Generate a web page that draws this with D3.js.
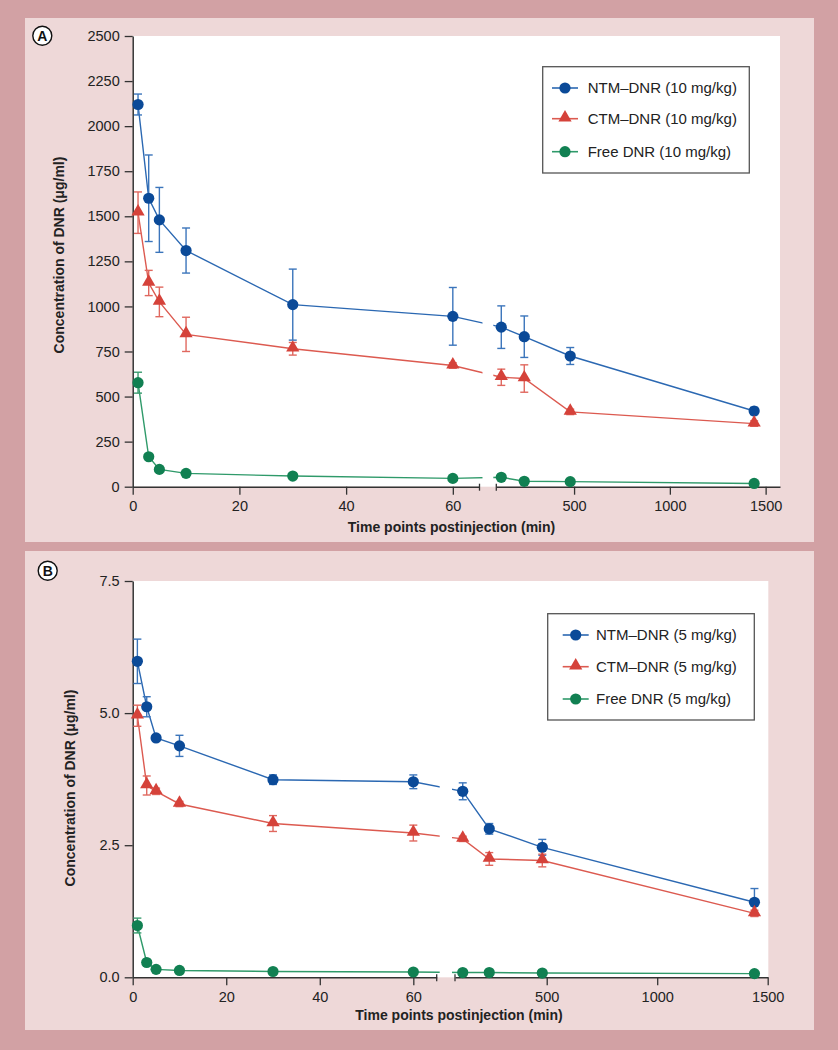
<!DOCTYPE html>
<html>
<head>
<meta charset="utf-8">
<script src="https://cdn.jsdelivr.net/npm/d3@7"></script>
<style>
  body { margin: 0; background: #d2a1a4; }
  svg { display: block; font-family: "Liberation Sans", Arial, Helvetica, sans-serif; }
</style>
</head>
<body>
<svg id="chart" width="838" height="1050"></svg>
<script>
// ---------------- DATA ----------------
const times = [1, 3, 5, 10, 30, 60, 120, 240, 480, 1440];

// Panel A (10 mg/kg), µg/ml
const ntmA     = [2120, 1600, 1480, 1310, 1010, 945, 885, 832, 725, 420];
const ntmErrA  = [58, 240, 180, 125, 197, 160, 118, 115, 47, 20];
const ctmA     = [1520, 1130, 1025, 845, 765, 672, 607, 600, 415, 350];
const ctmErrA  = [115, 70, 82, 95, 35, 15, 45, 76, 15, 15];
const freeA    = [577, 166, 96, 74, 59, 46, 52, 30, 28, 18];
const freeErrA = [58, 8, 8, 6, 5, 5, 5, 5, 5, 5];

// Panel B (5 mg/kg), µg/ml
const ntmB     = [5.98, 5.12, 4.53, 4.38, 3.74, 3.70, 3.52, 2.81, 2.46, 1.42];
const ntmErrB  = [0.42, 0.19, 0.06, 0.20, 0.09, 0.13, 0.16, 0.10, 0.15, 0.26];
const ctmB     = [4.95, 3.63, 3.52, 3.28, 2.91, 2.73, 2.62, 2.24, 2.21, 1.21];
const ctmErrB  = [0.20, 0.18, 0.06, 0.05, 0.15, 0.15, 0.05, 0.12, 0.12, 0.06];
const freeB    = [0.98, 0.28, 0.15, 0.13, 0.11, 0.10, 0.09, 0.09, 0.08, 0.07];
const freeErrB = [0.14, 0.03, 0.02, 0.02, 0.02, 0.02, 0.02, 0.02, 0.02, 0.02];

const yTicksA = [0, 250, 500, 750, 1000, 1250, 1500, 1750, 2000, 2250, 2500];
const yTicksB = [0, 2.5, 5.0, 7.5];
const xTicksLeft  = [0, 20, 40, 60];
const xTicksRight = [500, 1000, 1500];

const seriesNames = ["NTM–DNR", "CTM–DNR", "Free DNR"];
const doseA = "10 mg/kg", doseB = "5 mg/kg";
const xTitle = "Time points postinjection (min)";
const yTitle = "Concentration of DNR (μg/ml)";

// ---------------- STYLE ----------------
const styles = [
  { marker: "circle",   fill: "#0b4a98", line: "#2b68b2", err: "#3b75bb" },
  { marker: "triangle", fill: "#d5423a", line: "#dc5a50", err: "#e0685f" },
  { marker: "circle",   fill: "#118052", line: "#2f9a6a", err: "#3b9d70" }
];

const svg = d3.select("#chart");
svg.append("rect").attr("width", 838).attr("height", 1050).attr("fill", "#d2a1a4");

function drawPanel(cfg) {
  const g = svg.append("g");
  g.append("rect").attr("x", cfg.bg[0]).attr("y", cfg.bg[1]).attr("width", cfg.bg[2]).attr("height", cfg.bg[3])
    .attr("fill", "#eed8d8");
  const p = cfg.plot;
  g.append("rect").attr("x", p.left).attr("y", p.top).attr("width", p.right - p.left).attr("height", p.bottom - p.top)
    .attr("fill", "#ffffff");

  const xL = d3.scaleLinear().domain(cfg.leftDomain).range([p.left, cfg.leftEnd]);
  const xR = d3.scaleLinear().domain(cfg.rightDomain).range([cfg.rightStart, cfg.rightEnd]);
  const xPos = t => t <= cfg.leftDomain[1] ? xL(t) : xR(t);
  const y = d3.scaleLinear().domain(cfg.yDomain).range([p.bottom, p.top]);

  // axes
  const axisColor = "#333";
  const yAxis = g.append("g").attr("transform", `translate(${p.left},0)`)
    .call(d3.axisLeft(y).tickValues(cfg.yTicks).tickFormat(cfg.yFormat).tickSize(8).tickPadding(5).tickSizeOuter(0));
  const xAxL = g.append("g").attr("transform", `translate(0,${p.bottom})`)
    .call(d3.axisBottom(xL).tickValues(xTicksLeft).tickFormat(d3.format("d")).tickSize(8).tickPadding(6).tickSizeOuter(0));
  const xAxR = g.append("g").attr("transform", `translate(0,${p.bottom})`)
    .call(d3.axisBottom(xR).tickValues(xTicksRight).tickFormat(d3.format("d")).tickSize(8).tickPadding(6).tickSizeOuter(0));
  [yAxis, xAxL, xAxR].forEach(a => {
    a.attr("font-size", null).attr("font-family", null);
    a.selectAll("path.domain").attr("stroke", axisColor).attr("stroke-width", 1.5);
    a.selectAll(".tick line").attr("stroke", axisColor).attr("stroke-width", 1.3);
    a.selectAll(".tick text").attr("fill", "#222").style("font-size", "14.5px")
      .style("font-family", '"Liberation Sans", Arial, sans-serif');
  });
  // break ticks
  [cfg.leftEnd, cfg.rightStart].forEach(xx => {
    g.append("line").attr("x1", xx).attr("x2", xx).attr("y1", p.bottom - 3).attr("y2", p.bottom + 4)
      .attr("stroke", axisColor).attr("stroke-width", 1.3);
  });

  // clip for broken lines
  const clipId = "clip" + cfg.id;
  const cp = svg.append("defs").append("clipPath").attr("id", clipId);
  cp.append("rect").attr("x", 0).attr("y", 0).attr("width", cfg.leftEnd + 3).attr("height", 1050);
  cp.append("rect").attr("x", cfg.rightStart - 3).attr("y", 0).attr("width", 838).attr("height", 1050);

  const line = d3.line().x(d => xPos(d.t)).y(d => y(d.v));

  cfg.series.forEach((s, i) => {
    const st = styles[i];
    const pts = times.map((t, k) => ({ t, v: s.values[k], e: s.errs[k] }));
    g.append("path").datum(pts).attr("d", line).attr("fill", "none")
      .attr("stroke", st.line).attr("stroke-width", 1.4).attr("clip-path", `url(#${clipId})`);
    // error bars
    const eg = g.append("g").attr("stroke", st.err).attr("stroke-width", 1.4);
    pts.forEach(d => {
      const cx = xPos(d.t), y1 = y(d.v + d.e), y2 = y(d.v - d.e);
      eg.append("line").attr("x1", cx).attr("x2", cx).attr("y1", y1).attr("y2", y2);
      eg.append("line").attr("x1", cx - 4).attr("x2", cx + 4).attr("y1", y1).attr("y2", y1);
      eg.append("line").attr("x1", cx - 4).attr("x2", cx + 4).attr("y1", y2).attr("y2", y2);
    });
    // markers
    pts.forEach(d => drawMarker(g, st, xPos(d.t), y(d.v)));
  });

  // legend
  const L = cfg.legend;
  g.append("rect").attr("x", L.x).attr("y", L.y).attr("width", L.w).attr("height", L.h)
    .attr("fill", "#fff").attr("stroke", "#555").attr("stroke-width", 1.3);
  seriesNames.forEach((nm, i) => {
    const st = styles[i];
    const yy = L.rows[i];
    g.append("line").attr("x1", L.mx - 13).attr("x2", L.mx + 13).attr("y1", yy).attr("y2", yy)
      .attr("stroke", st.line).attr("stroke-width", 1.6);
    drawMarker(g, st, L.mx, yy);
    g.append("text").attr("x", L.tx).attr("y", yy).attr("dy", "0.36em")
      .attr("fill", "#222").style("font-size", "15px").text(`${nm} (${cfg.dose})`);
  });

  // axis titles
  g.append("text").attr("x", cfg.xTitle[0]).attr("y", cfg.xTitle[1]).attr("text-anchor", "middle")
    .attr("fill", "#222").style("font-size", "14px").style("font-weight", "bold").text(xTitle);
  g.append("text").attr("transform", `translate(${cfg.yTitle[0]},${cfg.yTitle[1]}) rotate(-90)`)
    .attr("text-anchor", "middle").attr("dy", "0.35em")
    .attr("fill", "#222").style("font-size", "14px").style("font-weight", "bold").text(yTitle);

  // panel letter
  g.append("circle").attr("cx", cfg.letterPos[0]).attr("cy", cfg.letterPos[1]).attr("r", 9.5)
    .attr("fill", "#fff").attr("stroke", "#111").attr("stroke-width", 1.4);
  g.append("text").attr("x", cfg.letterPos[0]).attr("y", cfg.letterPos[1]).attr("dy", "0.36em")
    .attr("text-anchor", "middle").attr("fill", "#111").style("font-size", "14px").style("font-weight", "bold")
    .text(cfg.letter);
}

function drawMarker(g, st, x, y) {
  if (st.marker === "circle") {
    g.append("circle").attr("cx", x).attr("cy", y).attr("r", 5.6).attr("fill", st.fill);
  } else {
    g.append("path").attr("d", d3.symbol().type(d3.symbolTriangle).size(76)())
      .attr("transform", `translate(${x},${y - 1})`).attr("fill", st.fill);
  }
}

drawPanel({
  id: "A", letter: "A", dose: doseA,
  bg: [25, 18, 789, 524],
  plot: { left: 132.7, top: 36, right: 780, bottom: 486.7 },
  leftDomain: [0, 65], leftEnd: 479.5,
  rightDomain: [94, 1575], rightStart: 496.3, rightEnd: 780,
  yDomain: [0, 2500], yTicks: yTicksA, yFormat: d3.format("d"),
  series: [
    { values: ntmA, errs: ntmErrA },
    { values: ctmA, errs: ctmErrA },
    { values: freeA, errs: freeErrA }
  ],
  legend: { x: 542.7, y: 66.7, w: 206.6, h: 106.3, rows: [88, 118.7, 151.7], mx: 565, tx: 587.7 },
  xTitle: [451.5, 532], yTitle: [59, 255],
  letterPos: [42.3, 35.7]
});

drawPanel({
  id: "B", letter: "B", dose: doseB,
  bg: [25, 551, 789, 479],
  plot: { left: 132.7, top: 581, right: 768.3, bottom: 977.3 },
  leftDomain: [0, 65], leftEnd: 436.7,
  rightDomain: [85, 1500], rightStart: 455, rightEnd: 767.7,
  yDomain: [0, 7.5], yTicks: yTicksB, yFormat: d3.format(".1f"),
  series: [
    { values: ntmB, errs: ntmErrB },
    { values: ctmB, errs: ctmErrB },
    { values: freeB, errs: freeErrB }
  ],
  legend: { x: 547.7, y: 613.7, w: 206.6, h: 106.3, rows: [635, 666.7, 699], mx: 575.7, tx: 596 },
  xTitle: [459, 1020], yTitle: [69.7, 788],
  letterPos: [47.7, 570.7]
});
</script>
</body>
</html>
